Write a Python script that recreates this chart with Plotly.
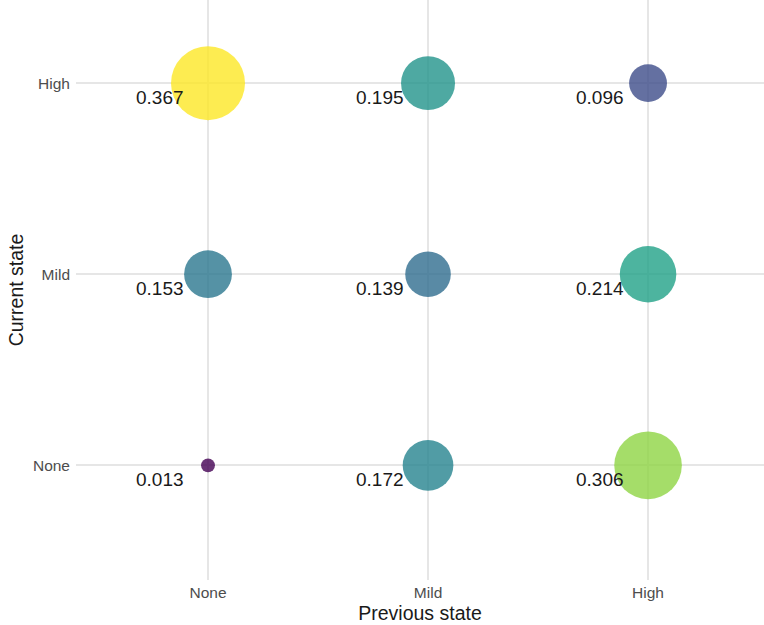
import plotly.graph_objects as go

states = ["None", "Mild", "High"]
previous_state = ["None", "Mild", "High", "None", "Mild", "High", "None", "Mild", "High"]
current_state = ["High", "High", "High", "Mild", "Mild", "Mild", "None", "None", "None"]
probability = [0.367, 0.195, 0.096, 0.153, 0.139, 0.214, 0.013, 0.172, 0.306]

max_diam = 74
sizeref = 2 * max(probability) / (max_diam ** 2)

fig = go.Figure()
fig.add_trace(go.Scatter(
    x=previous_state, y=current_state, mode="markers",
    marker=dict(size=probability, sizemode="area", sizeref=sizeref,
                color=probability, colorscale="Viridis",
                cmin=min(probability), cmax=max(probability),
                opacity=0.8, line=dict(width=0)),
    hoverinfo="skip", showlegend=False,
))

for xv, yv, p in zip(previous_state, current_state, probability):
    fig.add_annotation(x=xv, y=yv, text=f"{p:.3f}", showarrow=False,
                       xanchor="right", yanchor="middle", xshift=-22, yshift=-14,
                       font=dict(family="Liberation Sans, Arial", size=19, color="#1a1a1a"))

fig.update_layout(
    width=764, height=625,
    margin=dict(l=76, r=0, t=0, b=45),
    plot_bgcolor="white", paper_bgcolor="white",
    font=dict(family="Liberation Sans, Arial", color="#4d4d4d"),
    xaxis=dict(type="category", categoryorder="array", categoryarray=states,
               range=[-0.6, 2.527], showgrid=True, gridcolor="#e6e6e6", gridwidth=1.5,
               zeroline=False, showline=False, ticks="", tickfont=dict(size=15.5, color="#4d4d4d"),
               ticklabelstandoff=1, automargin=False,
               title=dict(text="Previous state", font=dict(size=19.5, color="#1a1a1a"), standoff=6)),
    yaxis=dict(type="category", categoryorder="array", categoryarray=states,
               range=[-0.6, 2.435], showgrid=True, gridcolor="#e6e6e6", gridwidth=1.5,
               zeroline=False, showline=False, ticks="", tickfont=dict(size=15.5, color="#4d4d4d"),
               ticklabelstandoff=5, automargin=False,
               title=dict(text="Current state", font=dict(size=19.5, color="#1a1a1a"), standoff=4)),
)

fig.write_html("out.html", config={"displayModeBar": False},
               post_script="document.body.style.margin='0px';")
